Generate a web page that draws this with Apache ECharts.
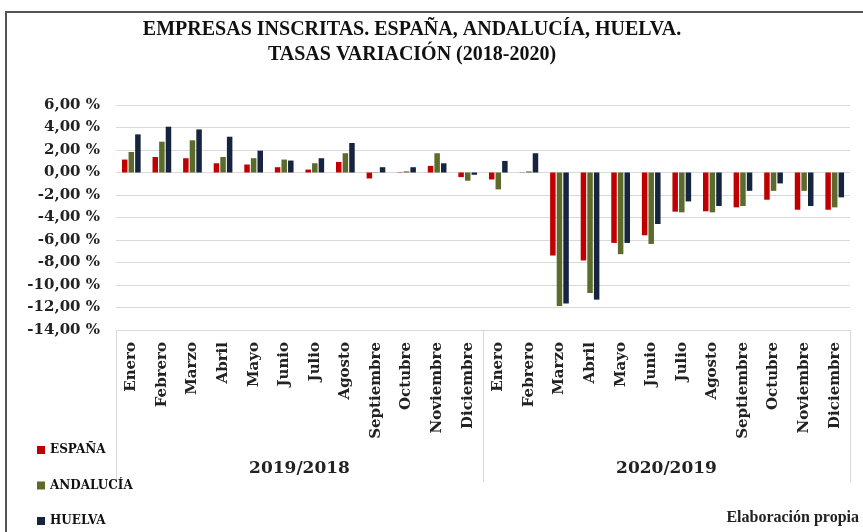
<!DOCTYPE html>
<html>
<head>
<meta charset="utf-8">
<script src="https://cdn.jsdelivr.net/npm/echarts@6/dist/echarts.min.js"></script>
<style>html,body{margin:0;padding:0;background:#fff}#c{width:863px;height:532px}</style>
</head>
<body>
<div id="c"></div>
<script>
const months = ['Enero','Febrero','Marzo','Abril','Mayo','Junio','Julio','Agosto','Septiembre','Octubre','Noviembre','Diciembre'];
const categories = months.concat(months);
const periods = ['2019/2018', '2020/2019'];
const espana = [1.15, 1.38, 1.27, 0.82, 0.71, 0.47, 0.26, 0.94, -0.53, 0.03, 0.59, -0.41,
                -0.62, 0.02, -7.38, -7.82, -6.26, -5.58, -3.48, -3.45, -3.10, -2.42, -3.31, -3.31];
const andalucia = [1.82, 2.74, 2.86, 1.38, 1.27, 1.15, 0.82, 1.71, 0.03, 0.10, 1.71, -0.73,
                -1.50, 0.10, -11.86, -10.71, -7.26, -6.35, -3.54, -3.54, -2.98, -1.63, -1.63, -3.10];
const huelva = [3.39, 4.07, 3.83, 3.18, 1.94, 1.06, 1.27, 2.62, 0.47, 0.47, 0.82, -0.20,
                1.03, 1.71, -11.65, -11.30, -6.26, -4.58, -2.57, -2.98, -1.63, -0.97, -2.98, -2.21];
const seriesNames = ['ESPAÑA', 'ANDALUCÍA', 'HUELVA'];
const titleLines = ['EMPRESAS INSCRITAS. ESPAÑA, ANDALUCÍA, HUELVA.', 'TASAS VARIACIÓN (2018-2020)'];
const sourceText = 'Elaboración propia';

const SERIF = '"DejaVu Serif", serif';
const TSERIF = '"Liberation Serif", serif';
const colors = ['#c00000', '#5b6b2c', '#16243f'];

const chart = echarts.init(document.getElementById('c'), null, {renderer: 'canvas'});
const mk = (name, data, i) => ({
  name, type: 'bar', data, xAxisIndex: 0, yAxisIndex: 0,
  barWidth: 5.5, barGap: '20%',
  itemStyle: {color: colors[i]}
});
chart.setOption({
  animation: false,
  backgroundColor: '#fff',
  color: colors,
  grid: {left: 116, right: 13, top: 105, bottom: 202, containLabel: false},
  legend: {
    data: seriesNames, orient: 'vertical', left: 37, top: 444, padding: 0,
    itemWidth: 8, itemHeight: 8, itemGap: 23.5, icon: 'rect',
    textStyle: {fontFamily: SERIF, fontWeight: 'bold', fontSize: 12, color: '#111'}
  },
  xAxis: [{
    type: 'category', data: categories, position: 'bottom',
    axisLine: {show: false, onZero: false}, axisTick: {show: false},
    axisLabel: {rotate: 90, interval: 0, margin: 12, fontFamily: SERIF, fontWeight: 'bold', fontSize: 15, color: '#222'}
  }, {
    type: 'category', data: periods, position: 'bottom', boundaryGap: true,
    axisLine: {show: false, onZero: false},
    axisTick: {show: true, length: 152, interval: 0, lineStyle: {color: '#d9d9d9', width: 1}},
    axisLabel: {margin: 130, interval: 0, fontFamily: SERIF, fontWeight: 'bold', fontSize: 17, color: '#222'}
  }],
  yAxis: {
    type: 'value', min: -14, max: 6, interval: 2,
    axisLine: {show: false}, axisTick: {show: false},
    splitLine: {lineStyle: {color: '#d9d9d9', width: 1}},
    axisLabel: {margin: 16, fontFamily: SERIF, fontWeight: 'bold', fontSize: 15, color: '#222',
      formatter: v => v.toFixed(2).replace('.', ',') + ' %'}
  },
  series: [mk(seriesNames[0], espana, 0), mk(seriesNames[1], andalucia, 1), mk(seriesNames[2], huelva, 2)],
  graphic: [
    {type: 'rect', shape: {x: 6, y: 12, width: 900, height: 560}, style: {fill: null, stroke: '#555', lineWidth: 2}, silent: true},
    {type: 'text', x: 412, y: 30, style: {text: titleLines[0], textAlign: 'center', textVerticalAlign: 'middle', font: 'bold 20px ' + TSERIF, fill: '#111'}},
    {type: 'text', x: 412, y: 55, style: {text: titleLines[1], textAlign: 'center', textVerticalAlign: 'middle', font: 'bold 20px ' + TSERIF, fill: '#111'}},
    {type: 'text', x: 859, y: 518, style: {text: sourceText, textAlign: 'right', textVerticalAlign: 'middle', font: 'bold 16px ' + TSERIF, fill: '#222'}}
  ]
});
</script>
</body>
</html>
